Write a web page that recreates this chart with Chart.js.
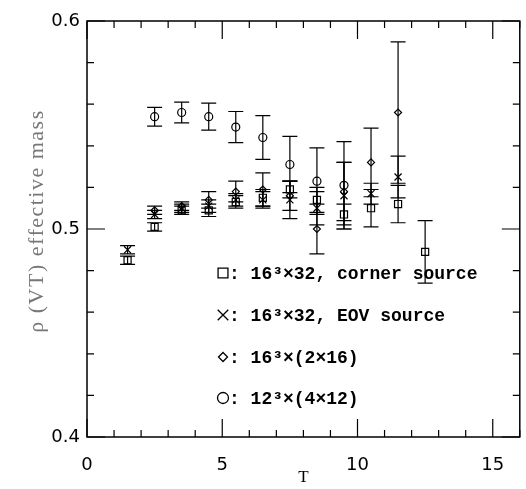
<!DOCTYPE html>
<html>
<head>
<meta charset="utf-8">
<script src="https://cdn.jsdelivr.net/npm/chart.js@4/dist/chart.umd.min.js"></script>
<style>
  html, body { margin: 0; padding: 0; background: #fff; }
  #wrap { width: 526px; height: 489px; }
</style>
</head>
<body>
<div id="wrap"><canvas id="myChart" width="526" height="489"></canvas></div>
<script>
// time slices
const T = [1.5, 2.5, 3.5, 4.5, 5.5, 6.5, 7.5, 8.5, 9.5, 10.5, 11.5, 12.5];

// 16^3x32, corner source (squares)
const cornerMass = [0.485, 0.501, 0.509, 0.509, 0.513, 0.515, 0.519, 0.514, 0.507, 0.510, 0.512, 0.489];
const cornerErr  = [0.002, 0.002, 0.002, 0.003, 0.003, 0.004, 0.004, 0.006, 0.005, 0.009, 0.009, 0.015];

// 16^3x32, EOV source (crosses)
const eovMass = [0.490, 0.507, 0.510, 0.511, 0.514, 0.514, 0.514, 0.510, 0.516, 0.517, 0.525, null];
const eovErr  = [0.002, 0.002, 0.002, 0.003, 0.003, 0.004, 0.009, 0.008, 0.016, 0.005, 0.010, null];

// 16^3x(2x16) (diamonds)
const twoMass = [null, 0.509, 0.511, 0.514, 0.518, 0.519, 0.516, 0.500, 0.518, 0.532, 0.556, null];
const twoErr  = [null, 0.002, 0.002, 0.004, 0.005, 0.008, 0.007, 0.012, 0.014, 0.0165, 0.034, null];

// 12^3x(4x12) (circles)
const fourMass = [null, 0.554, 0.556, 0.554, 0.549, 0.544, 0.531, 0.523, 0.521, null, null, null];
const fourErr  = [null, 0.0045, 0.005, 0.0065, 0.0075, 0.0105, 0.0135, 0.016, 0.021, null, null, null];

const xLabelled = [0, 5, 10, 15];
const yLabelled = [0.4, 0.5, 0.6];
const legendText = [': 16³×32, corner source', ': 16³×32, EOV source', ': 16³×(2×16)', ': 12³×(4×12)'];

function points(vals, errs) {
  const out = [];
  T.forEach((t, i) => {
    if (vals[i] !== null) out.push({ x: t, y: vals[i], e: errs[i] });
  });
  return out;
}

function series(label, vals, errs, style, r) {
  return {
    label: label,
    data: points(vals, errs),
    pointStyle: style,
    pointRadius: r,
    pointBorderWidth: 1.2,
    borderColor: '#000',
    backgroundColor: 'rgba(0,0,0,0)',
    showLine: false
  };
}

// error bars drawn under the open markers
const errorBars = {
  id: 'errorBars',
  beforeDatasetsDraw(chart) {
    const ctx = chart.ctx;
    const xs = chart.scales.x, ys = chart.scales.y;
    ctx.save();
    ctx.strokeStyle = '#000';
    ctx.lineWidth = 1.2;
    chart.data.datasets.forEach(ds => {
      ds.data.forEach(p => {
        const px = xs.getPixelForValue(p.x);
        const top = ys.getPixelForValue(p.y + p.e);
        const bot = ys.getPixelForValue(p.y - p.e);
        ctx.beginPath();
        ctx.moveTo(px, top); ctx.lineTo(px, bot);
        ctx.moveTo(px - 7.5, top); ctx.lineTo(px + 7.5, top);
        ctx.moveTo(px - 7.5, bot); ctx.lineTo(px + 7.5, bot);
        ctx.stroke();
      });
    });
    ctx.restore();
  }
};

// frame, inward ticks on all sides, titles and the in-plot legend
const frame = {
  id: 'frame',
  afterDraw(chart) {
    const ctx = chart.ctx;
    const a = chart.chartArea;
    const xs = chart.scales.x, ys = chart.scales.y;
    ctx.save();
    ctx.strokeStyle = '#000';
    ctx.lineWidth = 1.5;
    ctx.strokeRect(a.left, a.top, a.right - a.left, a.bottom - a.top);

    ctx.lineWidth = 1.2;
    ctx.beginPath();
    for (let v = 0; v <= 16; v++) {
      const px = xs.getPixelForValue(v);
      const len = v % 5 === 0 ? 18 : 7;
      ctx.moveTo(px, a.bottom); ctx.lineTo(px, a.bottom - len);
      ctx.moveTo(px, a.top); ctx.lineTo(px, a.top + len);
    }
    for (let k = 0; k <= 10; k++) {
      const py = ys.getPixelForValue(0.4 + k * 0.02);
      const len = k % 5 === 0 ? 18 : 7;
      ctx.moveTo(a.left, py); ctx.lineTo(a.left + len, py);
      ctx.moveTo(a.right, py); ctx.lineTo(a.right - len, py);
    }
    ctx.stroke();

    // x title
    ctx.fillStyle = '#000';
    ctx.font = '17px "Liberation Serif"';
    ctx.textAlign = 'center';
    ctx.textBaseline = 'middle';
    ctx.fillText('T', (a.left + a.right) / 2, 478);

    // y title
    ctx.save();
    ctx.translate(37, (a.top + a.bottom) / 2 - 8);
    ctx.rotate(-Math.PI / 2);
    ctx.fillStyle = '#777';
    ctx.font = '22px "Liberation Serif"';
    ctx.letterSpacing = '1.5px';
    ctx.fillText('ρ (VT) effective mass', 0, 0);
    ctx.restore();

    // legend
    const styles = [['rect', 7], ['crossRot', 7.5], ['rectRot', 4.5], ['circle', 5.5]];
    const rowY = [273, 315, 357, 398];
    ctx.textAlign = 'left';
    ctx.textBaseline = 'middle';
    ctx.lineWidth = 1.3;
    legendText.forEach((txt, i) => {
      ctx.fillStyle = 'rgba(0,0,0,0)';
      Chart.helpers.drawPoint(ctx, {
        pointStyle: styles[i][0], radius: styles[i][1], rotation: 0, borderWidth: 1.3
      }, 223, rowY[i]);
      ctx.fillStyle = '#000';
      ctx.font = 'bold 18px "Liberation Mono"';
      ctx.fillText(txt, 229, rowY[i] + 1);
    });
    ctx.restore();
  }
};

const ctx = document.getElementById('myChart').getContext('2d');
const chart = new Chart(ctx, {
  type: 'scatter',
  data: {
    datasets: [
      series('16³×32, corner source', cornerMass, cornerErr, 'rect', 5),
      series('16³×32, EOV source', eovMass, eovErr, 'crossRot', 5),
      series('16³×(2×16)', twoMass, twoErr, 'rectRot', 3.5),
      series('12³×(4×12)', fourMass, fourErr, 'circle', 4)
    ]
  },
  options: {
    responsive: false,
    animation: false,
    devicePixelRatio: 1,
    layout: { padding: { left: 0, right: 4, top: 21, bottom: 0 } },
    plugins: { legend: { display: false }, tooltip: { enabled: false } },
    scales: {
      x: {
        type: 'linear', min: 0, max: 16,
        grid: { display: false, drawTicks: false },
        border: { display: false },
        afterFit(scale) { scale.height = 52; scale.paddingLeft = 0; scale.paddingRight = 0; },
        ticks: {
          stepSize: 1, autoSkip: false, maxRotation: 0, padding: 18,
          color: '#000', font: { family: 'DejaVu Sans', size: 18 },
          callback: v => xLabelled.includes(v) ? String(v) : ''
        }
      },
      y: {
        type: 'linear', min: 0.4, max: 0.6,
        grid: { display: false, drawTicks: false },
        border: { display: false },
        afterFit(scale) { scale.width = 87; scale.paddingTop = 0; scale.paddingBottom = 0; },
        ticks: {
          stepSize: 0.02, autoSkip: false, padding: 7,
          color: '#000', font: { family: 'DejaVu Sans', size: 18 },
          callback: v => yLabelled.some(l => Math.abs(l - v) < 1e-6) ? v.toFixed(1) : ''
        }
      }
    }
  },
  plugins: [errorBars, frame]
});
</script>
</body>
</html>
